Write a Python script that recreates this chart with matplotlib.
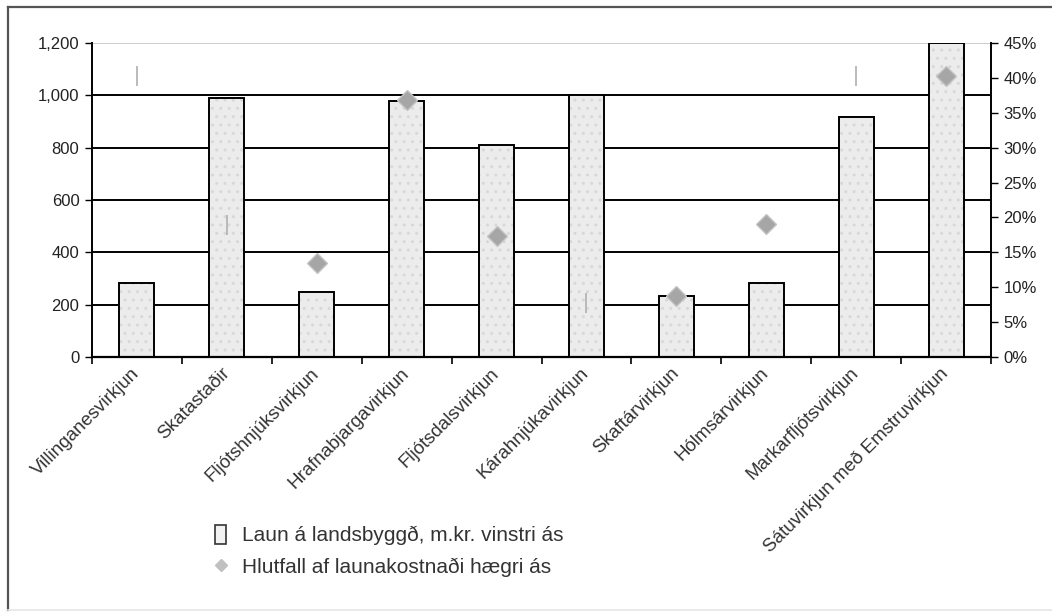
import numpy as np
import matplotlib.pyplot as plt
from matplotlib.lines import Line2D
from matplotlib.patches import Patch
from matplotlib.ticker import FuncFormatter, MultipleLocator

plt.rcParams['font.family'] = ['Liberation Sans', 'DejaVu Sans']

# Data
stations = ["Villinganesvirkjun", "Skatastaðir", "Fljótshnjúksvirkjun",
            "Hrafnabjargavirkjun", "Fljótsdalsvirkjun", "Kárahnjúkavirkjun",
            "Skaftárvirkjun", "Hólmsárvirkjun", "Markarfljótsvirkjun",
            "Sátuvirkjun með Emstruvirkjun"]
wages = [284, 990, 250, 980, 809, 1003, 233, 282, 916, 1199]   # m.kr., left axis
share = [40.2, 18.9, 13.5, 36.9, 17.3, 7.7, 8.7, 19.1, 40.2, 40.2]  # %, right axis
faint = [True, True, False, False, False, True, False, False, True, False]

legend_bar = "Laun á landsbyggð, m.kr. vinstri ás"
legend_pt = "Hlutfall af launakostnaði hægri ás"

fig = plt.figure(figsize=(10.52, 6.13), dpi=100)
ax = fig.add_axes([92/1052, 1-357/613, (991-92)/1052, (357-43)/613])

x = np.arange(len(stations))

# grid lines behind bars
for v in [200, 400, 600, 800, 1000]:
    ax.axhline(v, color='black', lw=1.4, zorder=1)
ax.axhline(1200, color='#cccccc', lw=1.4, zorder=1)

ax.bar(x, wages, width=0.39, color='#ececec', edgecolor='#d8d8d8',
       hatch='..', lw=0, zorder=2)
ax.bar(x, wages, width=0.39, fill=False, edgecolor='black', lw=1.4, zorder=3)

ax.set_xlim(-0.5, len(stations) - 0.5)
ax.set_ylim(0, 1200)
ax.yaxis.set_major_locator(MultipleLocator(200))
ax.yaxis.set_major_formatter(FuncFormatter(lambda v, p: f"{int(v):,}"))
ax.set_xticks(np.arange(-0.5, len(stations), 1.0))
ax.set_xticklabels([])
ax.tick_params(axis='x', direction='out', length=5, width=1.2, color='black')
ax.tick_params(axis='y', direction='out', length=5, width=1.0, pad=4,
               labelsize=12, labelcolor='#222222')
for s in ['top', 'right']:
    ax.spines[s].set_visible(False)
ax.spines['left'].set_linewidth(1.4)
ax.spines['bottom'].set_linewidth(1.6)

for xi, name in zip(x, stations):
    ax.annotate(name, (xi, 0), xytext=(0, -10), textcoords='offset points',
                rotation=45, rotation_mode='anchor', ha='right', va='center',
                fontsize=13.5, color='#333333')

ax2 = ax.twinx()
ax2.set_ylim(0, 45)
ax2.yaxis.set_major_locator(MultipleLocator(5))
ax2.yaxis.set_major_formatter(FuncFormatter(lambda v, p: f"{int(v)}%"))
ax2.tick_params(axis='y', direction='out', length=5, width=1.0, pad=4,
                labelsize=12, labelcolor='#222222')
for s in ['top', 'left', 'bottom']:
    ax2.spines[s].set_visible(False)
ax2.spines['right'].set_linewidth(1.4)

share_a = np.array(share)
faint_a = np.array(faint)
ax2.plot(x[~faint_a], share_a[~faint_a], ls='none', marker='D', ms=10.5,
         color='#a6a6a6', mec='#c4c4c4', mew=1, zorder=5)
ax2.plot(x[faint_a], share_a[faint_a], ls='none', marker='|', ms=15,
         color='#b5b5b5', mew=1.3, zorder=5)

handles = [Patch(facecolor='#f2f2f2', edgecolor='#333333', lw=1.2),
           Line2D([], [], ls='none', marker='D', ms=6, color='#c0c0c0')]
fig.legend(handles, [legend_bar, legend_pt], loc='upper left',
           bbox_to_anchor=(215/1052, 1-525/613), frameon=False,
           fontsize=15, handlelength=0.55, handleheight=1.0,
           handletextpad=0.75, labelspacing=0.55, borderpad=0,
           borderaxespad=0, labelcolor='#333333')

# outer frame of the scanned chart
fig.add_artist(Line2D([8/1052, 1], [1-7/613, 1-7/613], color='#555555', lw=1.6))
fig.add_artist(Line2D([8/1052, 8/1052], [1-7/613, 1-610/613], color='#555555', lw=1.6))
fig.add_artist(Line2D([8/1052, 1], [1-610/613, 1-610/613], color='#e6e6e6', lw=1.2))

fig.savefig('out.png', dpi=100)
